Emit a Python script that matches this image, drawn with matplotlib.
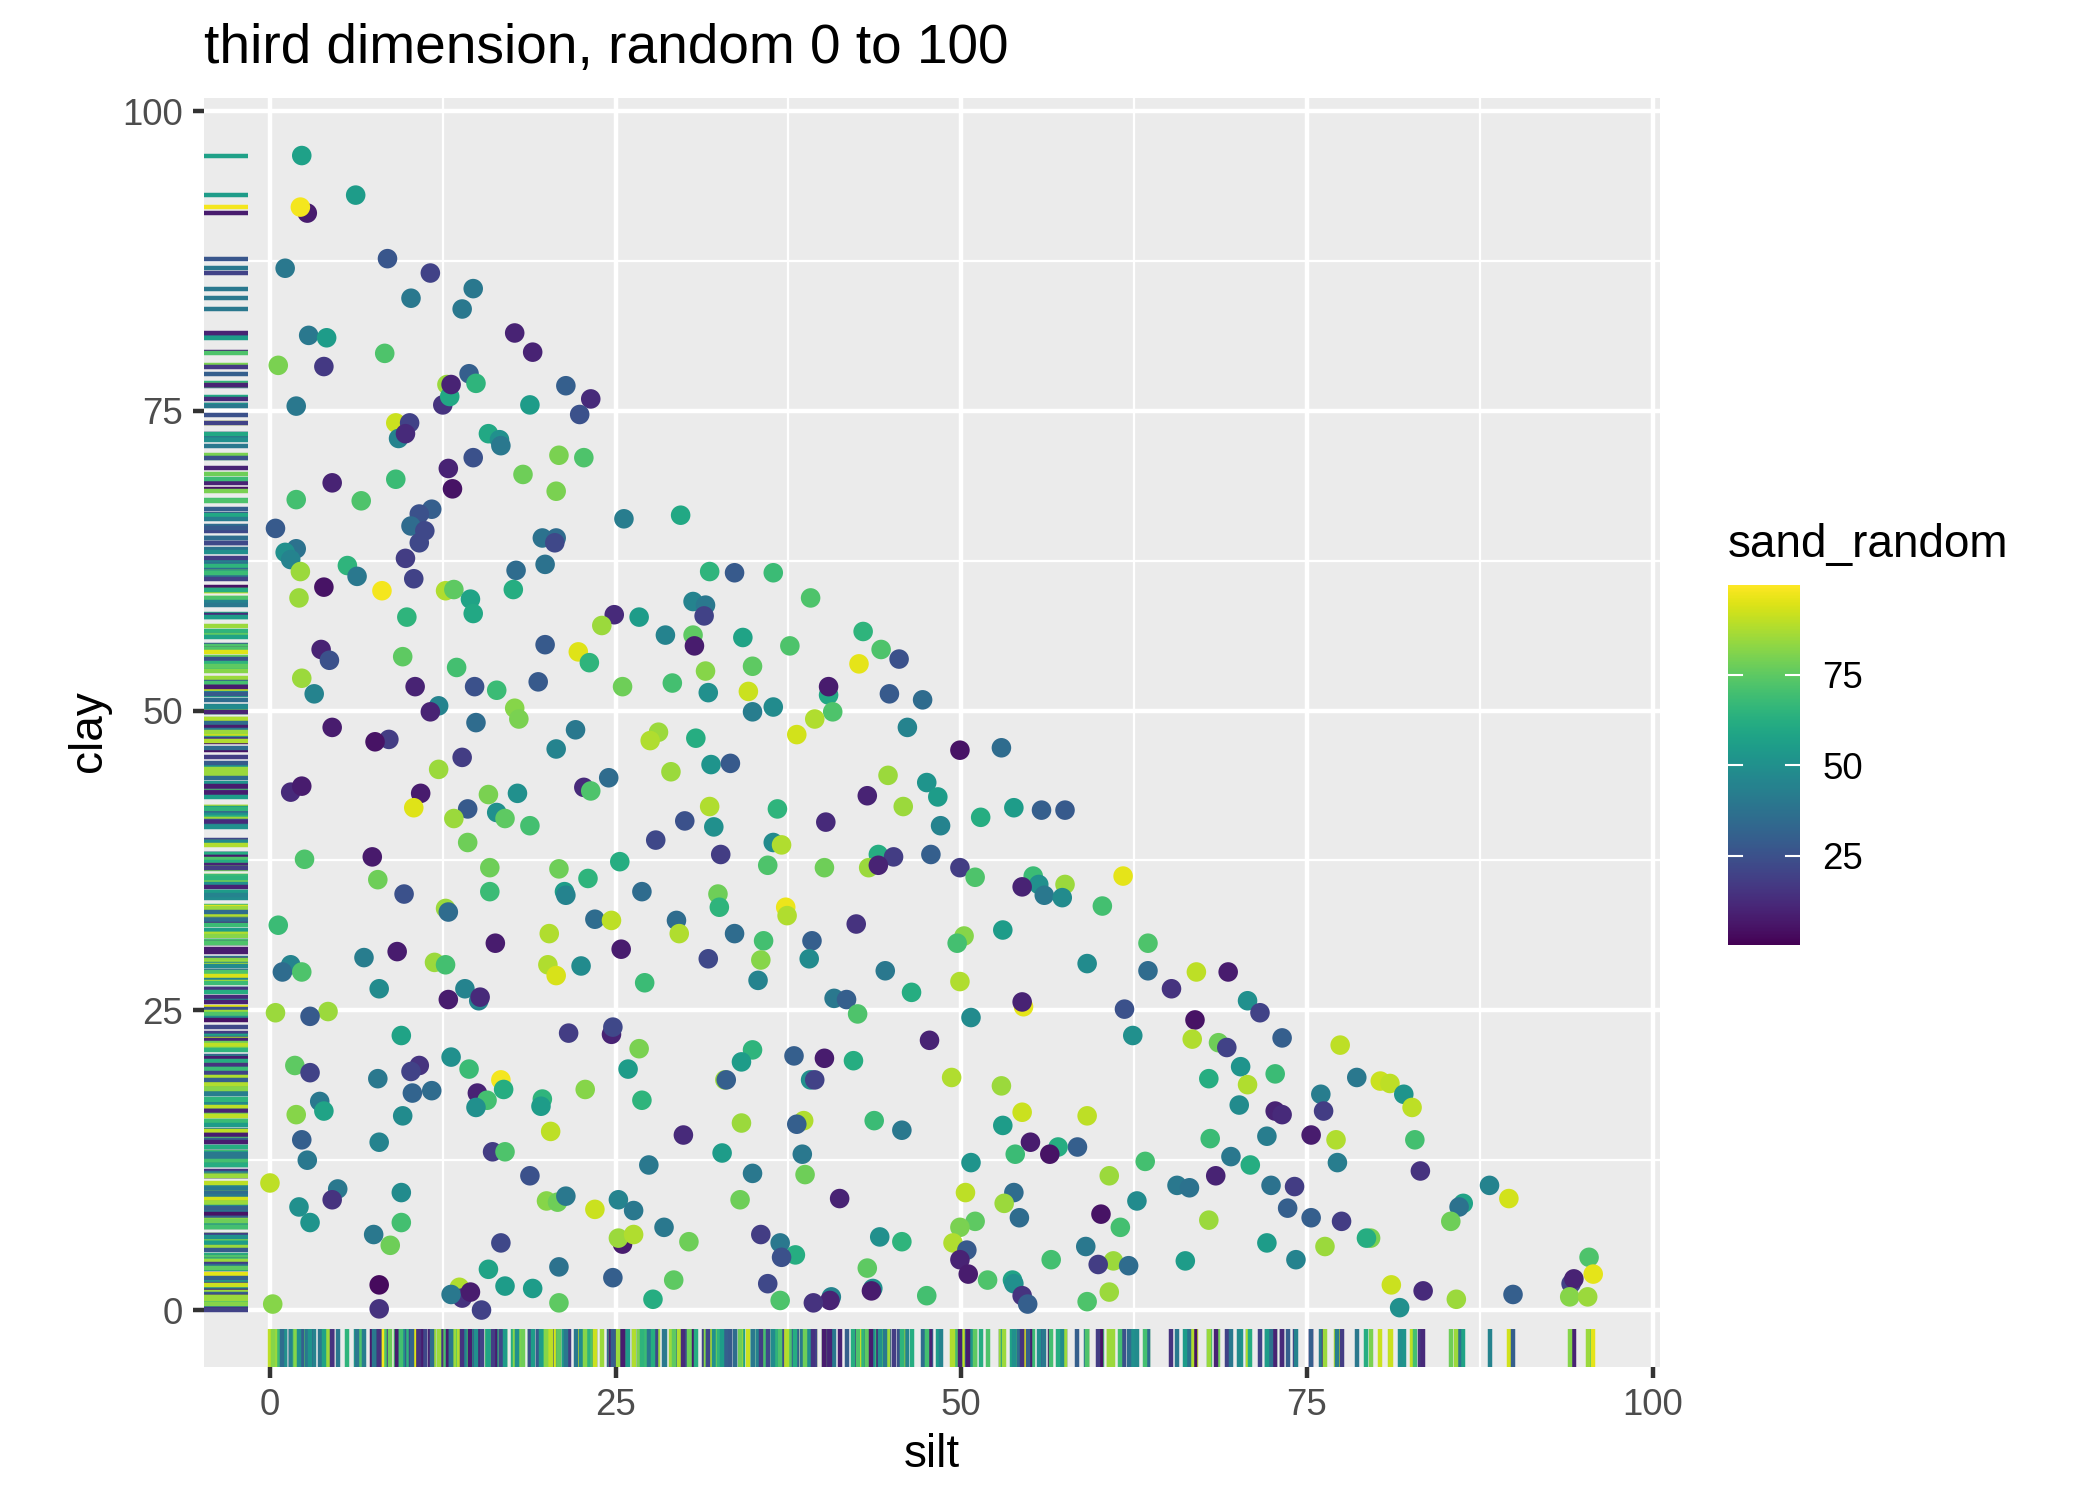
import matplotlib
matplotlib.use("Agg")
import matplotlib.pyplot as plt
import numpy as np
from matplotlib.colors import Normalize

silt = [2.3,6.2,2.7,2.2,8.5,1.1,11.6,14.7,10.2,13.9,
2.8,4.1,17.7,19.0,8.3,0.6,3.9,14.4,14.9,21.4,
12.5,12.8,13.0,13.1,23.2,18.8,1.9,22.4,9.1,10.1,
9.3,9.8,15.8,16.6,16.7,20.9,22.7,14.7,12.9,18.3,
4.5,9.1,13.2,20.7,1.9,6.6,11.7,10.8,29.7,25.6,
10.2,11.2,0.4,19.7,20.7,20.6,10.8,1.9,1.1,1.5,
9.8,19.9,5.6,17.8,2.2,6.3,31.8,33.6,36.4,10.4,
3.9,8.1,12.7,13.3,17.6,2.1,14.5,39.1,30.6,31.5,
31.4,14.7,9.9,24.9,26.7,24.0,42.9,28.6,30.6,34.2,
30.7,19.9,37.6,3.7,44.2,22.3,4.3,9.6,45.5,42.6,
23.1,13.5,34.9,31.5,2.3,19.4,29.1,25.5,16.4,14.8,
10.5,34.6,31.7,3.2,40.4,40.4,44.8,47.2,12.2,17.7,
36.4,34.9,40.7,11.6,18.0,39.4,14.9,46.1,4.5,22.1,
38.1,28.1,30.8,8.6,7.6,27.5,20.7,49.9,52.9,13.9,
31.9,33.3,12.2,29.0,44.7,24.5,47.5,22.7,23.2,15.8,
17.9,1.5,2.3,10.9,43.2,48.3,31.8,45.8,10.4,14.3,
16.4,53.8,55.8,57.5,36.7,51.4,17.0,13.3,30.0,18.8,
40.2,48.5,32.1,27.9,14.3,36.4,37.0,32.6,47.8,44.0,
45.1,7.4,2.5,25.3,36.0,43.3,44.0,15.9,20.9,40.1,
49.9,51.0,61.7,55.2,7.8,23.0,57.5,55.6,54.4,56.0,
57.3,32.4,9.7,15.9,26.9,21.3,21.4,60.2,32.5,37.3,
37.4,12.7,12.9,23.5,24.7,29.4,42.4,0.6,33.6,53.0,
20.2,29.6,50.2,49.7,39.2,35.7,16.3,63.5,25.4,9.2,
6.8,39.0,31.7,35.5,11.9,12.7,59.1,1.5,20.1,22.5,
44.5,67.0,69.3,63.5,0.9,2.3,20.7,35.3,49.9,27.1,
7.9,14.1,65.2,46.4,40.8,41.7,12.9,15.1,15.2,70.7,
54.5,54.4,61.8,71.6,4.2,0.4,2.9,42.5,50.7,66.9,
24.7,24.8,21.6,62.4,9.5,73.2,66.7,47.7,68.6,69.2,
77.4,26.7,34.9,37.9,13.1,40.1,34.1,42.2,1.8,70.2,
10.8,10.2,25.9,14.4,72.7,2.9,16.7,7.8,67.9,39.1,
39.4,78.6,80.3,81.0,49.3,32.9,33.0,52.9,70.7,15.0,
15.7,11.7,10.3,16.9,82.0,76.0,3.6,19.7,26.9,19.6,
70.1,14.9,82.6,3.9,54.4,76.2,72.7,73.2,1.9,9.6,
59.1,22.8,38.6,38.1,34.1,43.7,53.0,45.7,20.3,29.9,
72.1,75.3,68.0,77.1,82.8,2.3,7.9,55.0,58.4,57.0,
56.4,16.1,17.0,32.7,53.9,38.5,69.5,2.7,50.7,77.2,
63.3,27.4,70.9,83.2,34.9,18.8,38.7,68.4,60.7,65.6,
66.5,72.4,74.1,88.2,0.0,4.9,9.5,50.3,53.8,41.2,
20.0,20.8,21.4,4.5,25.2,34.0,62.7,89.6,86.3,86.0,
53.1,2.1,23.5,26.3,73.6,60.1,54.2,75.3,77.5,67.9,
9.5,2.9,28.5,51.0,49.9,85.4,61.5,7.5,79.6,79.3,
25.5,25.2,26.3,35.5,44.1,30.3,8.7,16.7,36.9,45.7,
49.4,72.1,59.0,76.3,50.4,38.0,37.0,95.4,49.9,74.2,
56.5,66.2,61.0,59.9,62.1,20.9,15.8,43.2,50.5,95.7,
94.1,94.3,51.9,29.2,53.7,53.8,24.8,7.9,13.7,17.0,
19.0,36.0,43.6,43.5,81.1,83.4,13.9,13.1,14.5,47.5,
60.7,89.9,40.6,40.5,54.4,27.7,94.0,95.3,36.9,39.3,
54.8,20.9,59.1,85.8,81.7,0.2,7.9,15.3]

clay = [96.3,93.0,91.5,92.0,87.7,86.9,86.5,85.2,84.4,83.5,
81.3,81.1,81.5,79.9,79.8,78.8,78.7,78.1,77.3,77.1,
75.5,77.2,76.2,77.2,76.0,75.5,75.4,74.7,74.0,74.0,
72.7,73.1,73.1,72.6,72.1,71.3,71.1,71.1,70.2,69.7,
69.0,69.3,68.5,68.3,67.6,67.5,66.8,66.4,66.3,66.0,
65.4,65.0,65.2,64.4,64.4,64.0,64.0,63.5,63.2,62.6,
62.7,62.2,62.1,61.7,61.6,61.2,61.6,61.5,61.5,61.0,
60.3,60.0,60.0,60.1,60.1,59.4,59.3,59.4,59.1,58.8,
57.9,58.1,57.8,58.0,57.8,57.1,56.6,56.3,56.3,56.1,
55.4,55.5,55.4,55.1,55.1,54.9,54.2,54.5,54.3,53.9,
54.0,53.6,53.7,53.3,52.7,52.4,52.3,52.0,51.7,52.0,
52.0,51.6,51.5,51.4,51.3,52.0,51.4,50.9,50.4,50.2,
50.3,49.9,49.9,49.9,49.3,49.3,49.0,48.6,48.6,48.4,
48.0,48.2,47.7,47.6,47.4,47.5,46.8,46.7,46.9,46.1,
45.5,45.6,45.1,44.9,44.6,44.4,44.0,43.6,43.3,43.0,
43.1,43.2,43.7,43.1,42.9,42.8,42.0,42.0,41.9,41.8,
41.5,41.9,41.7,41.7,41.8,41.1,41.0,41.0,40.8,40.4,
40.7,40.4,40.3,39.2,39.0,39.0,38.8,38.0,38.0,38.0,
37.8,37.8,37.6,37.4,37.1,36.9,37.1,36.9,36.8,36.9,
36.9,36.1,36.2,36.2,35.9,36.0,35.5,35.5,35.3,34.6,
34.4,34.7,34.7,34.9,34.9,34.9,34.6,33.7,33.6,33.6,
32.9,33.5,33.2,32.6,32.5,32.5,32.2,32.1,31.4,31.7,
31.4,31.4,31.2,30.6,30.8,30.8,30.6,30.6,30.1,29.9,
29.4,29.3,29.3,29.2,29.0,28.8,28.9,28.8,28.8,28.7,
28.3,28.2,28.2,28.3,28.2,28.2,27.9,27.5,27.4,27.3,
26.8,26.8,26.8,26.5,26.0,25.9,25.9,25.8,26.1,25.8,
25.3,25.7,25.1,24.8,24.9,24.8,24.5,24.7,24.4,24.2,
23.0,23.6,23.1,22.9,22.9,22.7,22.6,22.5,22.3,21.9,
22.1,21.8,21.7,21.2,21.1,21.0,20.7,20.8,20.4,20.3,
20.4,19.9,20.1,20.1,19.7,19.8,19.2,19.3,19.3,19.2,
19.2,19.4,19.1,18.9,19.4,19.2,19.2,18.7,18.8,18.1,
17.5,18.3,18.1,18.4,18.0,18.0,17.4,17.6,17.5,17.0,
17.1,16.9,16.9,16.6,16.5,16.6,16.6,16.3,16.3,16.2,
16.2,18.4,15.8,15.5,15.6,15.8,15.4,15.0,14.9,14.6,
14.5,14.6,14.3,14.2,14.2,14.2,14.0,14.0,13.6,13.6,
13.0,13.2,13.2,13.1,13.0,13.0,12.8,12.5,12.3,12.3,
12.4,12.1,12.1,11.6,11.4,11.2,11.3,11.2,11.2,10.4,
10.2,10.4,10.3,10.4,10.6,10.1,9.8,9.8,9.8,9.3,
9.1,9.0,9.5,9.2,9.2,9.2,9.1,9.3,8.9,8.6,
8.9,8.6,8.4,8.3,8.5,8.0,7.7,7.7,7.4,7.5,
7.3,7.3,6.9,7.4,6.9,7.4,6.9,6.3,6.0,6.0,
5.5,6.0,6.3,6.3,6.1,5.7,5.4,5.6,5.6,5.7,
5.6,5.6,5.3,5.3,5.0,4.6,4.4,4.4,4.2,4.2,
4.2,4.1,4.1,3.8,3.7,3.6,3.4,3.5,3.0,3.0,
2.2,2.6,2.5,2.5,2.5,2.2,2.7,2.1,1.9,2.0,
1.8,2.2,1.8,1.6,2.1,1.6,1.0,1.3,1.5,1.2,
1.5,1.3,1.1,0.8,1.2,0.9,1.1,1.1,0.8,0.6,
0.5,0.6,0.7,0.9,0.2,0.5,0.1,0.0]

sand_random = [57,55,8,98,27,40,20,40,40,40,
40,55,10,10,72,80,17,30,65,30,
15,85,60,10,12,55,40,25,92,20,
45,12,60,50,40,80,72,25,10,78,
10,68,5,80,70,72,30,25,60,42,
35,22,28,38,35,22,22,38,50,45,
18,38,65,35,85,40,65,28,68,20,
5,98,88,75,62,85,58,72,45,40,
20,60,65,12,55,85,65,45,75,58,
8,28,72,10,72,95,25,75,25,96,
65,70,75,82,85,28,70,78,68,25,
10,92,50,45,60,8,28,35,45,82,
48,42,72,10,80,88,35,45,8,40,
93,85,62,18,5,88,45,5,35,18,
52,28,85,85,85,35,52,12,72,80,
50,12,8,8,10,55,88,85,95,28,
50,55,30,28,65,62,75,85,25,70,
12,45,50,22,78,48,88,18,30,62,
18,7,72,62,72,85,10,78,78,78,
18,72,96,68,78,65,85,50,10,40,
48,78,25,68,35,55,45,70,65,97,
88,85,35,35,90,35,15,68,35,55,
88,88,82,70,30,70,8,72,8,8,
42,48,22,82,85,70,48,45,88,48,
40,90,8,35,35,72,94,45,88,68,
48,45,15,62,40,30,8,45,12,50,
96,10,25,20,85,85,28,72,48,5,
10,22,18,50,58,30,88,10,78,20,
90,80,65,30,50,8,55,62,75,52,
15,20,55,68,68,20,98,40,62,50,
20,40,92,90,88,85,30,85,88,10,
70,35,32,62,52,42,40,65,65,55,
48,50,90,58,92,18,10,12,82,48,
90,82,88,30,85,68,55,40,90,12,
42,8,68,88,70,30,45,8,30,62,
5,18,72,55,68,40,40,40,52,42,
70,40,62,15,40,25,78,10,85,40,
38,38,18,45,90,40,48,90,35,10,
82,78,40,15,45,78,48,93,58,38,
85,50,92,40,30,5,35,30,18,85,
70,52,40,75,80,78,70,40,80,62,
8,85,88,18,50,78,78,22,40,65,
88,55,40,85,28,62,25,72,10,45,
70,55,85,18,35,38,58,75,8,96,
20,10,72,75,58,50,30,3,88,55,
55,22,50,8,92,12,15,40,8,70,
85,30,45,10,15,62,82,85,72,15,
30,75,72,85,50,82,15,20]

major_ticks = [0, 25, 50, 75, 100]
minor_ticks = [12.5, 37.5, 62.5, 87.5]
legend_ticks = [25, 50, 75]

W, H = 2099, 1499
plt.rcParams['font.family'] = ['Liberation Sans', 'DejaVu Sans']
fig = plt.figure(figsize=(W/300, H/300), dpi=300)

def box(l, t, r, b):
    return [l/W, 1-b/H, (r-l)/W, (b-t)/H]

ax = fig.add_axes(box(204, 98, 1660, 1367))
ax.set_facecolor('#EBEBEB')
for s in ax.spines.values():
    s.set_visible(False)
ax.set_xlim(-4.77, 100.53)
ax.set_ylim(-4.75, 101.1)
ax.set_axisbelow(True)
ax.set_xticks(major_ticks)
ax.set_yticks(major_ticks)
ax.set_xticks(minor_ticks, minor=True)
ax.set_yticks(minor_ticks, minor=True)
ax.grid(which='major', color='white', lw=1.07)
ax.grid(which='minor', color='white', lw=0.53)
ax.tick_params(which='minor', length=0)
ax.tick_params(which='major', length=2.75, width=1.07, color='#333333',
               labelcolor='#4D4D4D', labelsize=8.8, pad=2.2)

norm = Normalize(0.3, 99.9)
cmap = plt.get_cmap('viridis')
silt_a, clay_a, sand_a = map(np.array, (silt, clay, sand_random))
cols = cmap(norm(sand_a))

ax.vlines(silt_a, 0, 0.03, transform=ax.get_xaxis_transform(), colors=cols, lw=1.07, zorder=2)
ax.hlines(clay_a, 0, 0.03, transform=ax.get_yaxis_transform(), colors=cols, lw=1.07, zorder=2)
ax.scatter(silt_a, clay_a, c=sand_a, cmap=cmap, norm=norm, s=22, linewidths=0, zorder=3)

fig.text(204/W, 1-49/H, 'third dimension, random 0 to 100', fontsize=13.2, color='black', ha='left', va='center')
fig.text(932/W, 1-1455/H, 'silt', fontsize=11, ha='center', va='center')
fig.text(89/W, 1-731/H, 'clay', fontsize=11, rotation=90, ha='center', va='center')

cax = fig.add_axes(box(1728, 585, 1800, 945))
sm = plt.cm.ScalarMappable(norm=norm, cmap=cmap)
cb = fig.colorbar(sm, cax=cax, ticks=legend_ticks)
cb.outline.set_visible(False)
cax.tick_params(length=0, labelsize=8.8, pad=5.3, labelcolor='black')
for v in legend_ticks:
    cax.plot([0, 0.2], [v, v], transform=cax.get_yaxis_transform(), color='white', lw=0.5)
    cax.plot([0.8, 1], [v, v], transform=cax.get_yaxis_transform(), color='white', lw=0.5)
fig.text(1728/W, 1-545/H, 'sand_random', fontsize=11, ha='left', va='center')

fig.savefig('out.png', dpi=300)
